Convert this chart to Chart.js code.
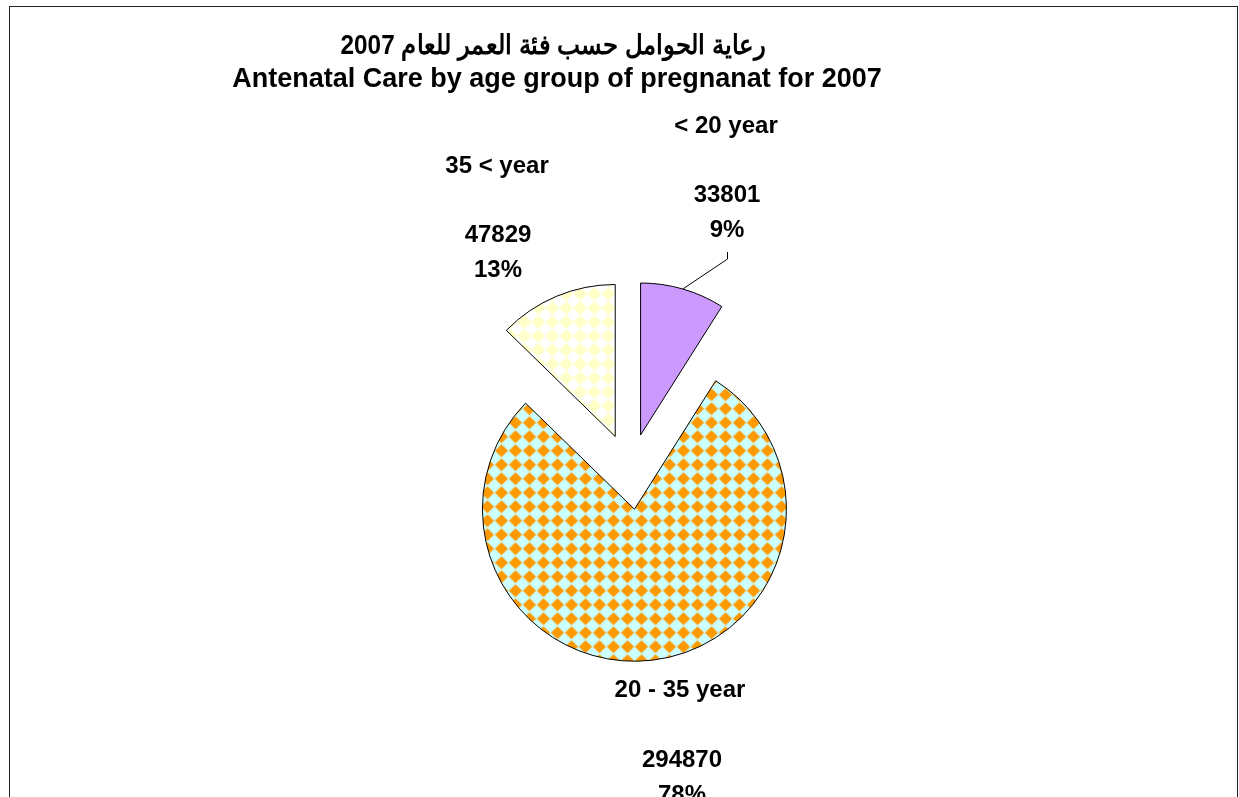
<!DOCTYPE html>
<html>
<head>
<meta charset="utf-8">
<script src="https://cdn.jsdelivr.net/npm/chart.js@4.4.1/dist/chart.umd.min.js"></script>
<style>
  html, body { margin: 0; padding: 0; background: #fff; }
  canvas { display: block; }
</style>
</head>
<body>
<canvas id="chart" width="1239" height="797"></canvas>
<script>
const titleAr = 'رعاية الحوامل حسب فئة العمر للعام 2007';
const titleEn = 'Antenatal Care by age group of pregnanat for 2007';
const categories = ['< 20 year', '20 - 35 year', '35 < year'];
const counts = [33801, 294870, 47829];

// diamond pattern like the excel fills
function diamondFill(bg, fg, size, half) {
  const c = document.createElement('canvas');
  c.width = size;
  c.height = size;
  const g = c.getContext('2d');
  g.fillStyle = bg;
  g.fillRect(0, 0, size, size);
  const m = size / 2;
  g.fillStyle = fg;
  // centre diamond plus the tips of the neighbours that spill over the tile edge
  [[m, m], [m - size, m], [m + size, m], [m, m - size], [m, m + size]].forEach(([cx, cy]) => {
    g.beginPath();
    g.moveTo(cx, cy - half);
    g.lineTo(cx + half, cy);
    g.lineTo(cx, cy + half);
    g.lineTo(cx - half, cy);
    g.closePath();
    g.fill();
  });
  return g.createPattern(c, 'repeat');
}

const total = counts.reduce((a, b) => a + b, 0);
const FONT = '"Liberation Sans", Arial, sans-serif';
const EXPLODE = 38;

// where excel put each label block: [name x, name y, value x, value y]
const labelPos = [
  [726, 133, 727, 202],
  [680, 697, 682, 767],
  [497, 173, 498, 242],
];

// every slice pulled out by the same distance (chart.js offset also grows the radius)
const explode = {
  id: 'explode',
  beforeDatasetDraw(chart, args) {
    const ctx = chart.ctx;
    args.meta.data.forEach((arc) => {
      const mid = (arc.startAngle + arc.endAngle) / 2;
      ctx.save();
      ctx.translate(Math.cos(mid) * EXPLODE, Math.sin(mid) * EXPLODE);
      arc.draw(ctx);
      ctx.restore();
    });
    return false;
  },
};

const textLayer = {
  id: 'textLayer',
  beforeDraw(chart) {
    const ctx = chart.ctx;
    ctx.save();
    ctx.strokeStyle = '#222';
    ctx.lineWidth = 1;
    ctx.strokeRect(9.5, 6.5, 1228, 900);
    ctx.restore();
  },
  afterDatasetsDraw(chart) {
    const ctx = chart.ctx;
    ctx.save();
    ctx.fillStyle = '#000';
    ctx.textAlign = 'center';
    ctx.textBaseline = 'alphabetic';

    ctx.font = 'bold 27px ' + FONT;
    ctx.fillText(titleAr, 553, 54, 425);
    ctx.fillText(titleEn, 557, 87);

    ctx.font = 'bold 24px ' + FONT;
    categories.forEach((name, i) => {
      const p = labelPos[i];
      ctx.fillText(name, p[0], p[1]);
      ctx.fillText(String(counts[i]), p[2], p[3]);
      ctx.fillText(Math.round(counts[i] / total * 100) + '%', p[2], p[3] + 35);
    });

    // leader line for the small slice
    const arc = chart.getDatasetMeta(0).data[0];
    const mid = (arc.startAngle + arc.endAngle) / 2;
    const ex = arc.x + Math.cos(mid) * (EXPLODE + arc.outerRadius);
    const ey = arc.y + Math.sin(mid) * (EXPLODE + arc.outerRadius);
    ctx.strokeStyle = '#000';
    ctx.lineWidth = 1;
    ctx.beginPath();
    ctx.moveTo(727.5, 252);
    ctx.lineTo(727.5, 259);
    ctx.lineTo(ex, ey);
    ctx.stroke();
    ctx.restore();
  },
};

const config = {
  type: 'pie',
  data: {
    labels: categories,
    datasets: [
      {
        data: counts,
        backgroundColor: [
          '#CC99FF',
          diamondFill('#CCFFFF', '#FF9900', 14, 6.6),
          diamondFill('#FFFFFF', '#FFFFC8', 14, 7),
        ],
        borderColor: '#000',
        borderWidth: 1,
        hoverOffset: 0,
      },
    ],
  },
  options: {
    responsive: false,
    animation: false,
    events: [],
    layout: {
      padding: { left: 330, right: 309, top: 319, bottom: 173 },
    },
    plugins: {
      legend: { display: false },
      tooltip: { enabled: false },
      title: { display: false },
    },
  },
  plugins: [explode, textLayer],
};

new Chart(document.getElementById('chart'), config);
</script>
</body>
</html>
